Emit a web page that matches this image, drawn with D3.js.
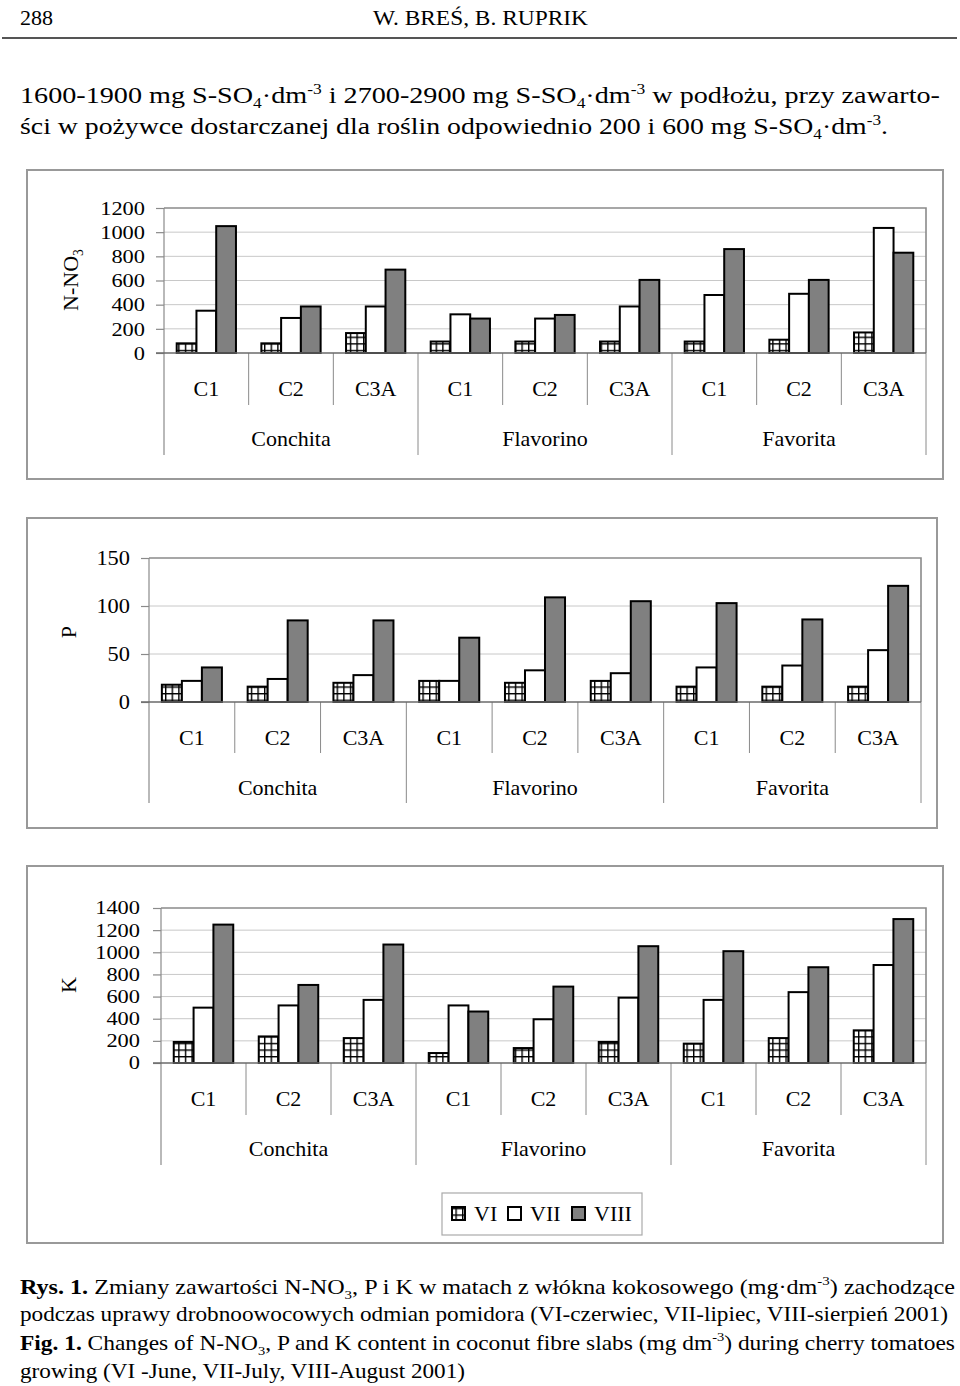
<!DOCTYPE html>
<html>
<head>
<meta charset="utf-8">
<script src="https://cdn.jsdelivr.net/npm/d3@7"></script>
<style>
  html, body { margin: 0; padding: 0; background: #fff; }
  svg { display: block; }
  text { font-family: "Liberation Serif", "Times New Roman", serif; fill: #000; }
</style>
</head>
<body>
<script>
// ---------------- DATA ----------------
const varieties = ["Conchita", "Flavorino", "Favorita"];
const treatments = ["C1", "C2", "C3A"];
const months = ["VI", "VII", "VIII"];

// N-NO3 (mg dm-3), order: Conchita C1,C2,C3A, Flavorino C1,C2,C3A, Favorita C1,C2,C3A
const no3VI   = [80, 80, 165, 95, 95, 95, 95, 110, 170];
const no3VII  = [350, 290, 385, 320, 285, 385, 480, 490, 1035];
const no3VIII = [1050, 385, 690, 285, 315, 605, 860, 605, 830];

// P
const pVI   = [18, 16, 20, 22, 20, 22, 16, 16, 16];
const pVII  = [22, 24, 28, 22, 33, 30, 36, 38, 54];
const pVIII = [36, 85, 85, 67, 109, 105, 103, 86, 121];

// K
const kVI   = [190, 240, 225, 90, 135, 190, 175, 225, 295];
const kVII  = [500, 520, 570, 520, 395, 590, 570, 640, 885];
const kVIII = [1250, 705, 1070, 465, 690, 1055, 1010, 865, 1300];

const no3Ticks = [0, 200, 400, 600, 800, 1000, 1200];
const pTicks = [0, 50, 100, 150];
const kTicks = [0, 200, 400, 600, 800, 1000, 1200, 1400];

// ---------------- SETUP ----------------
const W = 960, H = 1386;
const svg = d3.select("body").append("svg").attr("width", W).attr("height", H);
const defs = svg.append("defs");
const pat = defs.append("pattern").attr("id", "grid").attr("patternUnits", "userSpaceOnUse")
  .attr("width", 6.6).attr("height", 6.6);
pat.append("rect").attr("width", 6.6).attr("height", 6.6).attr("fill", "#fff");
pat.append("line").attr("x1", 0.6).attr("x2", 0.6).attr("y1", 0).attr("y2", 6.6).attr("stroke", "#000").attr("stroke-width", 1.6);
pat.append("line").attr("y1", 0.6).attr("y2", 0.6).attr("x1", 0).attr("x2", 6.6).attr("stroke", "#000").attr("stroke-width", 1.6);

const fills = { VI: "url(#grid)", VII: "#ffffff", VIII: "#808080" };

function rich(sel, parts) {
  let shift = 0;
  parts.forEach(([t, k]) => {
    const ts = sel.append("tspan").text(t);
    let target = 0;
    if (k === "sup") { target = -9; ts.attr("font-size", "0.62em"); }
    if (k === "sub") { target = 5; ts.attr("font-size", "0.62em"); }
    if (k === "b") ts.attr("font-weight", "bold");
    if (target !== shift) { ts.attr("dy", target - shift); shift = target; }
  });
  return sel;
}

// ---------------- HEADER ----------------
svg.append("text").attr("x", 20).attr("y", 25).attr("font-size", 22).text("288");
svg.append("text").attr("x", 373).attr("y", 25).attr("font-size", 22)
  .attr("textLength", 215).attr("lengthAdjust", "spacingAndGlyphs")
  .text("W. BREŚ, B. RUPRIK");
svg.append("line").attr("x1", 2).attr("x2", 957).attr("y1", 38).attr("y2", 38)
  .attr("stroke", "#555").attr("stroke-width", 2);

rich(svg.append("text").attr("x", 20).attr("y", 103).attr("font-size", 24)
  .attr("textLength", 920).attr("lengthAdjust", "spacingAndGlyphs"), [
  ["1600-1900 mg S-SO", "n"], ["4", "sub"], ["·dm", "n"], ["-3", "sup"],
  [" i 2700-2900 mg S-SO", "n"], ["4", "sub"], ["·dm", "n"], ["-3", "sup"],
  [" w podłożu, przy zawarto-", "n"]
]);
rich(svg.append("text").attr("x", 20).attr("y", 134).attr("font-size", 24)
  .attr("textLength", 868).attr("lengthAdjust", "spacingAndGlyphs"), [
  ["ści w pożywce dostarczanej dla roślin odpowiednio 200 i 600 mg S-SO", "n"], ["4", "sub"],
  ["·dm", "n"], ["-3", "sup"], [".", "n"]
]);

// ---------------- CHARTS ----------------
function drawChart(cfg) {
  const g = svg.append("g");
  g.append("rect").attr("x", cfg.box[0]).attr("y", cfg.box[1]).attr("width", cfg.box[2]).attr("height", cfg.box[3])
    .attr("fill", "none").attr("stroke", "#999").attr("stroke-width", 2);

  const cats = [];
  varieties.forEach(v => treatments.forEach(t => cats.push(v + "|" + t)));
  const x = d3.scaleBand().domain(cats).range([cfg.left, cfg.right]).paddingInner(0).paddingOuter(0);
  const xm = d3.scaleBand().domain(months).range([0, x.bandwidth()]).paddingInner(0).paddingOuter(0.643);
  const y = d3.scaleLinear().domain([0, cfg.ticks[cfg.ticks.length - 1]]).range([cfg.base, cfg.top]);

  g.append("g").selectAll("line").data(cfg.ticks.slice(1, -1)).join("line")
    .attr("x1", cfg.left).attr("x2", cfg.right).attr("y1", d => y(d)).attr("y2", d => y(d))
    .attr("stroke", "#c8c8c8").attr("stroke-width", 1);
  g.append("path").attr("d", `M${cfg.left},${cfg.top}H${cfg.right}V${cfg.base}`)
    .attr("fill", "none").attr("stroke", "#8a8a8a").attr("stroke-width", 1.6);

  const yAxis = d3.axisLeft(y).tickValues(cfg.ticks).tickSize(8).tickPadding(cfg.tickPad).tickFormat(d3.format("d"));
  const ya = g.append("g").attr("transform", `translate(${cfg.left},0)`).call(yAxis);
  ya.select(".domain").remove();
  ya.selectAll(".tick line").attr("stroke", "#8a8a8a").attr("stroke-width", 1.2);
  ya.selectAll(".tick text").attr("font-size", cfg.tickFont).attr("font-family", "Liberation Serif").attr("fill", "#000")
    .attr("textLength", d => String(d).length * 11.2).attr("lengthAdjust", "spacingAndGlyphs");
  g.append("line").attr("x1", cfg.left).attr("x2", cfg.left).attr("y1", cfg.top).attr("y2", cfg.groupBottom)
    .attr("stroke", "#8a8a8a").attr("stroke-width", 1.2);

  cats.forEach((c, i) => {
    const xx = x(c) + x.bandwidth();
    const isGroup = (i % 3) === 2;
    g.append("line").attr("x1", xx).attr("x2", xx).attr("y1", cfg.base)
      .attr("y2", isGroup ? cfg.groupBottom : cfg.catBottom)
      .attr("stroke", "#8a8a8a").attr("stroke-width", 1);
  });

  const series = [["VI", cfg.vals[0]], ["VII", cfg.vals[1]], ["VIII", cfg.vals[2]]];
  series.forEach(([m, vals]) => {
    g.append("g").selectAll("rect").data(vals).join("rect")
      .attr("x", (d, i) => x(cats[i]) + xm(m))
      .attr("width", xm.bandwidth())
      .attr("y", d => y(d))
      .attr("height", d => cfg.base - y(d))
      .attr("fill", fills[m]).attr("stroke", "#000").attr("stroke-width", 2);
  });

  g.append("line").attr("x1", cfg.left - 8).attr("x2", cfg.right).attr("y1", cfg.base).attr("y2", cfg.base)
    .attr("stroke", "#6a6a6a").attr("stroke-width", 1.6);

  cats.forEach((c, i) => {
    g.append("text").attr("x", x(c) + x.bandwidth() / 2).attr("y", cfg.catY).attr("dy", "0.35em")
      .attr("text-anchor", "middle").attr("font-size", 22).text(treatments[i % 3]);
  });
  varieties.forEach(v => {
    const x0 = x(v + "|C1"), x1 = x(v + "|C3A") + x.bandwidth();
    g.append("text").attr("x", (x0 + x1) / 2).attr("y", cfg.groupY).attr("dy", "0.35em")
      .attr("text-anchor", "middle").attr("font-size", 22).text(v);
  });

  const t = g.append("text").attr("transform", `translate(${cfg.titleX},${cfg.titleY}) rotate(-90)`)
    .attr("text-anchor", "middle").attr("dy", "0.35em").attr("font-size", 22);
  rich(t, cfg.title);
}

drawChart({
  box: [27, 170, 916, 309],
  left: 164, right: 926, top: 208, base: 353, catBottom: 405, groupBottom: 455,
  catY: 388, groupY: 438, tickPad: 11, tickFont: 19.5, ticks: no3Ticks,
  vals: [no3VI, no3VII, no3VIII],
  titleX: 70, titleY: 280, title: [["N-NO", "n"], ["3", "sub"]]
});
drawChart({
  box: [27, 518, 910, 310],
  left: 149, right: 921, top: 558, base: 702, catBottom: 753, groupBottom: 803,
  catY: 737, groupY: 787, tickPad: 11, tickFont: 21, ticks: pTicks,
  vals: [pVI, pVII, pVIII],
  titleX: 68, titleY: 632, title: [["P", "n"]]
});
drawChart({
  box: [27, 866, 916, 377],
  left: 161, right: 926, top: 908, base: 1063, catBottom: 1115, groupBottom: 1165,
  catY: 1098, groupY: 1148, tickPad: 13, tickFont: 18.5, ticks: kTicks,
  vals: [kVI, kVII, kVIII],
  titleX: 68, titleY: 985, title: [["K", "n"]]
});

// ---------------- LEGEND ----------------
const lg = svg.append("g");
lg.append("rect").attr("x", 442).attr("y", 1193).attr("width", 200).attr("height", 42)
  .attr("fill", "#fff").attr("stroke", "#aaa").attr("stroke-width", 1.2);
const legX = { VI: 452, VII: 508, VIII: 572 };
months.forEach(m => {
  lg.append("rect").attr("x", legX[m]).attr("y", 1207).attr("width", 13).attr("height", 13)
    .attr("fill", fills[m]).attr("stroke", "#000").attr("stroke-width", 2);
  lg.append("text").attr("x", legX[m] + 22).attr("y", 1213).attr("dy", "0.35em").attr("font-size", 22).text(m);
});

// ---------------- CAPTION ----------------
const capLines = [
  { y: 1294, len: 935, parts: [["Rys. 1.", "b"], [" Zmiany zawartości N-NO", "n"], ["3", "sub"], [", P i K w matach z włókna kokosowego (mg·dm", "n"], ["-3", "sup"], [") zachodzące", "n"]] },
  { y: 1321, len: 928, parts: [["podczas uprawy drobnoowocowych odmian pomidora (VI-czerwiec, VII-lipiec, VIII-sierpień 2001)", "n"]] },
  { y: 1350, len: 935, parts: [["Fig. 1.", "b"], [" Changes of N-NO", "n"], ["3", "sub"], [", P and K content in coconut fibre slabs (mg dm", "n"], ["-3", "sup"], [") during cherry tomatoes", "n"]] },
  { y: 1378, len: 445, parts: [["growing (VI -June, VII-July, VIII-August 2001)", "n"]] }
];
capLines.forEach(l => {
  rich(svg.append("text").attr("x", 20).attr("y", l.y).attr("font-size", 21)
    .attr("textLength", l.len).attr("lengthAdjust", "spacingAndGlyphs"), l.parts);
});
</script>
</body>
</html>
